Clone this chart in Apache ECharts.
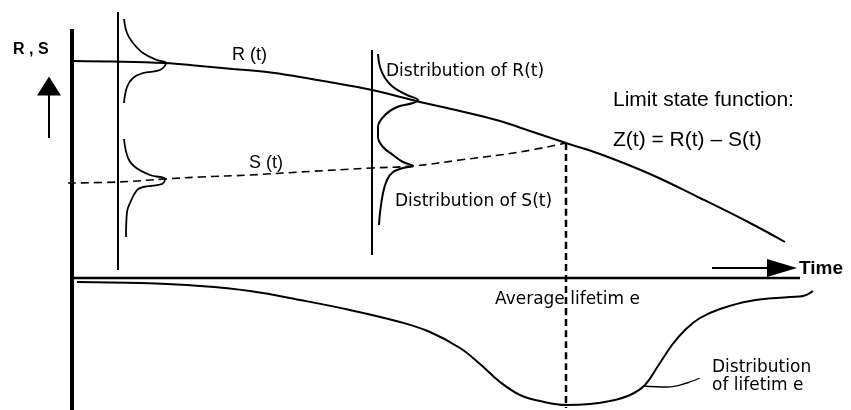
<!DOCTYPE html>
<html>
<head>
<meta charset="utf-8">
<script src="https://cdn.jsdelivr.net/npm/echarts@6/dist/echarts.min.js"></script>
<style>
  html, body { margin: 0; padding: 0; background: #fff; }
  #main { width: 851px; height: 410px; }
</style>
</head>
<body>
<div id="main"></div>
<script>
// curves, as [time, level] (level grows downward)
const rCurve = [[72, 61], [165, 63], [200, 66], [233, 69], [267, 72], [300, 77], [340, 84], [372, 90],
  [420, 102], [460, 111], [500, 121], [530, 131], [566, 143], [600, 154], [650, 174], [700, 198],
  [750, 223], [785, 242]]
const sCurve = [[68, 183], [118, 182], [165, 179], [200, 177], [250, 175], [300, 172], [372, 168],
  [413, 166], [460, 160], [520, 152], [566, 143]]
const rDist1 = [[124, 19], [127, 33], [133, 43], [143, 53], [157, 60], [166, 63], [160, 70],
  [143, 73], [133, 78], [127, 87], [124, 103]]
const sDist1 = [[124, 139], [128, 158], [135, 167], [150, 175], [165, 179], [162, 184], [143, 187],
  [137, 190], [130, 203], [127, 212], [126, 237]]
const dist2 = [[378, 54], [380, 67], [385, 78], [393, 87], [407, 95], [418, 100], [413, 103],
  [397, 107], [385, 115], [378, 127], [378, 137], [383, 147], [393, 155], [403, 162], [413, 166],
  [403, 168], [393, 172], [387, 180], [383, 193], [380, 213], [379, 225]]
const lifeCurve = [[77, 282], [140, 283], [200, 286], [250, 291], [300, 300], [350, 310], [400, 322],
  [430, 332], [460, 348], [480, 364], [500, 382], [520, 395], [540, 401], [566, 405], [590, 404],
  [610, 401], [630, 395], [645, 385], [658, 366], [672, 345], [686, 329], [700, 318], [720, 309],
  [750, 301], [790, 297], [803, 296], [813, 291]]
const pointer = [[643, 386], [667, 387], [687, 383], [700, 378]]

const levelAxis = [[72, 29], [72, 410]]
const timeAxis = [[72, 278], [800, 278]]
const slice1 = [[118, 12], [118, 270]]
const slice2 = [[372, 50], [372, 255]]
const lifeMark = [[566, 143], [566, 408]]
const timeArrow = [[712, 268], [772, 268]]
const upArrow = [[49, 138], [49, 94]]

const labels = [
  { text: 'R , S', x: 13, y: 50, size: 16, bold: true, font: 'Liberation Sans' },
  { text: 'R (t)', x: 232, y: 55, size: 18, font: 'Liberation Sans' },
  { text: 'S (t)', x: 249, y: 163, size: 18, font: 'Liberation Sans' },
  { text: 'Distribution of R(t)', x: 386, y: 72, size: 17, font: 'DejaVu Sans' },
  { text: 'Distribution of S(t)', x: 395, y: 202, size: 17, font: 'DejaVu Sans' },
  { text: 'Limit state function:', x: 613, y: 100, size: 21, font: 'Liberation Sans' },
  { text: 'Z(t) = R(t) \u2013 S(t)', x: 613, y: 140, size: 21, font: 'Liberation Sans' },
  { text: 'Time', x: 799, y: 269, size: 19, bold: true, font: 'Liberation Sans' },
  { text: 'Average lifetim e', x: 495, y: 300, size: 17, font: 'DejaVu Sans' },
  { text: 'Distribution', x: 712, y: 368, size: 17, font: 'DejaVu Sans' },
  { text: 'of lifetim e', x: 712, y: 386, size: 17, font: 'DejaVu Sans' }
]

function line(data, width, dash) {
  return {
    type: 'line',
    data: data,
    symbol: 'none',
    smooth: 0.4,
    lineStyle: { color: '#000', width: width, type: dash || 'solid', cap: 'butt' },
    silent: true,
    z: 2
  }
}

function arrowHead(pos, rotate, size) {
  return {
    type: 'scatter',
    data: [pos],
    symbol: 'triangle',
    symbolRotate: rotate,
    symbolSize: size,
    itemStyle: { color: '#000', opacity: 1 },
    silent: true
  }
}

let chart = echarts.init(document.getElementById('main'), null, { renderer: 'canvas' })
let option = {
  animation: false,
  backgroundColor: '#fff',
  grid: { left: 0, right: 0, top: 0, bottom: 0 },
  xAxis: { type: 'value', min: 0, max: 851, show: false },
  yAxis: { type: 'value', min: 0, max: 410, inverse: true, show: false },
  series: [
    line(levelAxis, 4),
    line(timeAxis, 2.5),
    line(slice1, 2),
    line(slice2, 2),
    line(rCurve, 2),
    line(sCurve, 1.6, [8, 5]),
    line(rDist1, 1.8),
    line(sDist1, 1.8),
    line(dist2, 2),
    line(lifeCurve, 2),
    line(pointer, 1.3),
    line(lifeMark, 2.5, [7, 4]),
    line(timeArrow, 2),
    line(upArrow, 2),
    arrowHead([782, 268], -90, [18, 30]),
    arrowHead([49, 86], 0, [24, 19])
  ],
  graphic: labels.map(l => ({
    type: 'text',
    x: l.x,
    y: l.y,
    silent: true,
    style: {
      text: l.text,
      fill: '#000',
      font: (l.bold ? 'bold ' : '') + l.size + 'px "' + l.font + '", sans-serif',
      textVerticalAlign: 'middle'
    }
  }))
}
chart.setOption(option)
</script>
</body>
</html>
